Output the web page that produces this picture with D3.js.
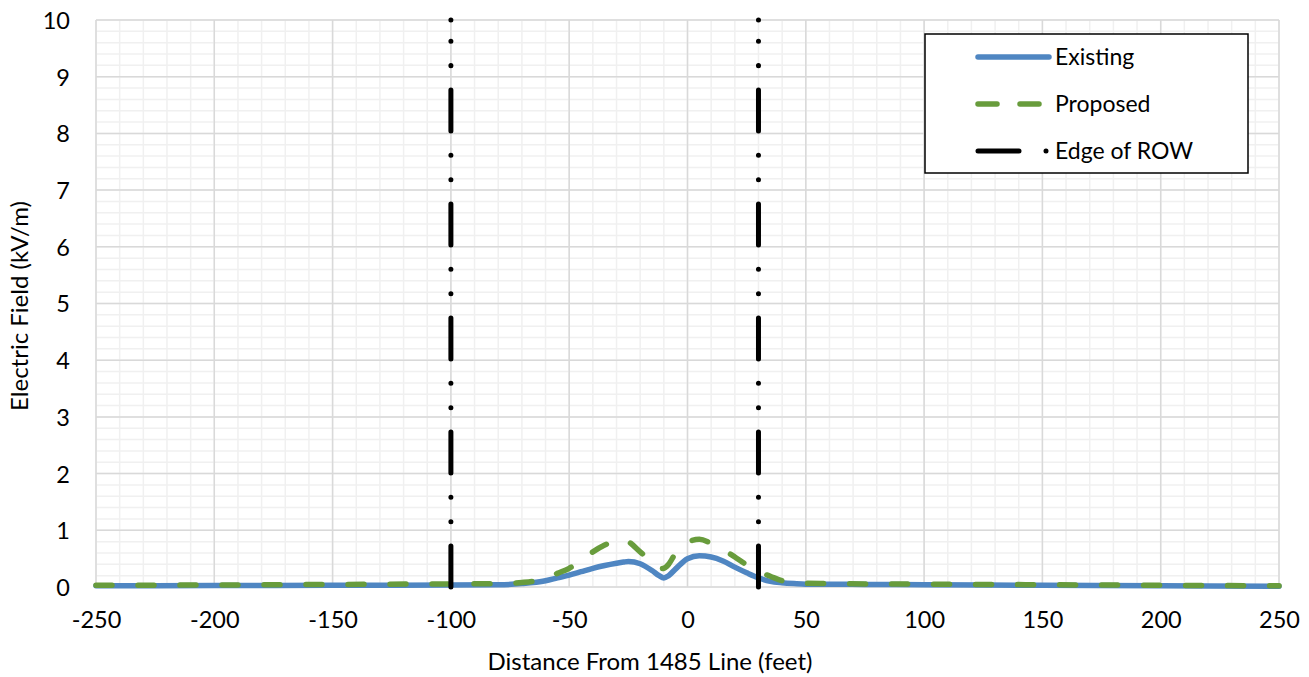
<!DOCTYPE html>
<html>
<head>
<meta charset="utf-8">
<script src="https://cdn.jsdelivr.net/npm/d3@7"></script>
<style>
  body { margin: 0; background: #fff; }
  svg { display: block; font-family: Lato, "Open Sans", sans-serif; }
</style>
</head>
<body>
<svg id="chart" width="1309" height="677"></svg>
<script>
// ---- data ----
const distances = [-250, -200, -150, -100, -80, -70, -60, -55, -50, -45, -40, -35, -30, -27, -25, -20, -15, -12, -10, -8, -5, 0, 5, 10, 15, 20, 25, 30, 35, 40, 45, 50, 60, 75, 100, 150, 200, 250];
const existing  = [0.02, 0.025, 0.03, 0.035, 0.04, 0.06, 0.11, 0.16, 0.21, 0.27, 0.33, 0.38, 0.42, 0.44, 0.45, 0.41, 0.29, 0.20, 0.16, 0.20, 0.32, 0.50, 0.55, 0.53, 0.46, 0.35, 0.25, 0.16, 0.10, 0.075, 0.06, 0.05, 0.05, 0.045, 0.04, 0.03, 0.02, 0.015];
const proposed  = [0.03, 0.035, 0.045, 0.055, 0.06, 0.08, 0.15, 0.24, 0.33, 0.47, 0.62, 0.74, 0.82, 0.84, 0.80, 0.62, 0.44, 0.32, 0.33, 0.40, 0.60, 0.79, 0.84, 0.77, 0.66, 0.53, 0.39, 0.27, 0.19, 0.11, 0.08, 0.065, 0.06, 0.055, 0.05, 0.04, 0.03, 0.02];
const rowEdges = [-100, 30];
const rowRange = [0, 10];
const xTicks = [-250, -200, -150, -100, -50, 0, 50, 100, 150, 200, 250];
const yTicks = [0, 1, 2, 3, 4, 5, 6, 7, 8, 9, 10];
const seriesNames = ["Existing", "Proposed", "Edge of ROW"];
const xTitle = "Distance From 1485 Line (feet)";
const yTitle = "Electric Field (kV/m)";

// ---- layout ----
const svg = d3.select("#chart");
const L = 96, R = 1279, T = 20, B = 587;
const x = d3.scaleLinear().domain([-250, 250]).range([L, R]);
const y = d3.scaleLinear().domain([0, 10]).range([B, T]);

const blue = "#4f86c2", green = "#689c3c";
const fmt = d => String(d);

// minor gridlines
const g = svg.append("g");
g.selectAll(".vmin").data(d3.range(-250, 251, 10)).join("line")
  .attr("x1", d => x(d)).attr("x2", d => x(d)).attr("y1", T).attr("y2", B)
  .attr("stroke", "#f0f0f0").attr("stroke-width", 1.5);
g.selectAll(".hmin").data(d3.range(0, 50.5, 1).map(v => v / 5)).join("line")
  .attr("x1", L).attr("x2", R).attr("y1", d => y(d)).attr("y2", d => y(d))
  .attr("stroke", "#f0f0f0").attr("stroke-width", 1.5);
// major gridlines
g.selectAll(".vmaj").data(xTicks).join("line")
  .attr("x1", d => x(d)).attr("x2", d => x(d)).attr("y1", T).attr("y2", B)
  .attr("stroke", "#d9d9d9").attr("stroke-width", 1.5);
g.selectAll(".hmaj").data(yTicks).join("line")
  .attr("x1", L).attr("x2", R).attr("y1", d => y(d)).attr("y2", d => y(d))
  .attr("stroke", "#d9d9d9").attr("stroke-width", 1.5);

// axes (labels only)
const xAxis = svg.append("g").attr("transform", `translate(0,${B})`)
  .call(d3.axisBottom(x).tickValues(xTicks).tickSize(0).tickPadding(24).tickFormat(fmt));
const yAxis = svg.append("g").attr("transform", `translate(${L},0)`)
  .call(d3.axisLeft(y).tickValues(yTicks).tickSize(0).tickPadding(26).tickFormat(fmt));
[xAxis, yAxis].forEach(a => {
  a.select(".domain").remove();
  a.selectAll("text").attr("font-family", "Lato, sans-serif").attr("font-size", 23.5).attr("fill", "#000");
});
yAxis.selectAll("text").attr("dy", "0.36em");

// series
const line = d3.line().x((d, i) => x(distances[i])).y(d => y(d)).curve(d3.curveMonotoneX);
svg.append("path").datum(existing).attr("d", line)
  .attr("fill", "none").attr("stroke", blue).attr("stroke-width", 5.5).attr("stroke-linejoin", "round").attr("stroke-linecap", "round");
svg.append("path").datum(proposed).attr("d", line)
  .attr("fill", "none").attr("stroke", green).attr("stroke-width", 5.5)
  .attr("stroke-dasharray", "16,26").attr("stroke-linecap", "round");

// edge of ROW
svg.selectAll(".row").data(rowEdges).join("line")
  .attr("x1", d => x(d)).attr("x2", d => x(d)).attr("y1", y(rowRange[0])).attr("y2", y(rowRange[1]))
  .attr("stroke", "#000").attr("stroke-width", 5)
  .attr("stroke-dasharray", "41,24.33,0.01,24.33,0.01,24.33").attr("stroke-linecap", "round");
svg.selectAll(".rowEnd").data(rowEdges).join("circle")
  .attr("cx", d => x(d)).attr("cy", y(rowRange[1])).attr("r", 2.5).attr("fill", "#000");

// axis titles
svg.append("text").attr("x", 650).attr("y", 670).attr("text-anchor", "middle")
  .attr("font-size", 24).attr("fill", "#000").text(xTitle);
svg.append("text").attr("transform", `translate(28,306) rotate(-90)`).attr("text-anchor", "middle")
  .attr("font-size", 24).attr("fill", "#000").text(yTitle);

// legend
const lg = svg.append("g");
lg.append("rect").attr("x", 925).attr("y", 34).attr("width", 323).attr("height", 139)
  .attr("fill", "#fff").attr("stroke", "#000").attr("stroke-width", 1.5);
const ly = [57, 104, 151];
lg.append("line").attr("x1", 978).attr("x2", 1049).attr("y1", ly[0]).attr("y2", ly[0])
  .attr("stroke", blue).attr("stroke-width", 5.5).attr("stroke-linecap", "round");
lg.append("line").attr("x1", 978).attr("x2", 1049).attr("y1", ly[1]).attr("y2", ly[1])
  .attr("stroke", green).attr("stroke-width", 5.5).attr("stroke-dasharray", "19,23").attr("stroke-linecap", "round");
lg.append("line").attr("x1", 978).attr("x2", 1049).attr("y1", ly[2]).attr("y2", ly[2])
  .attr("stroke", "#000").attr("stroke-width", 5).attr("stroke-dasharray", "41,27,0.01,100").attr("stroke-linecap", "round");
lg.selectAll(".lt").data(seriesNames).join("text")
  .attr("x", 1055).attr("y", (d, i) => ly[i]).attr("dy", "0.35em")
  .attr("font-size", 23).attr("fill", "#000").text(d => d);
</script>
</body>
</html>
